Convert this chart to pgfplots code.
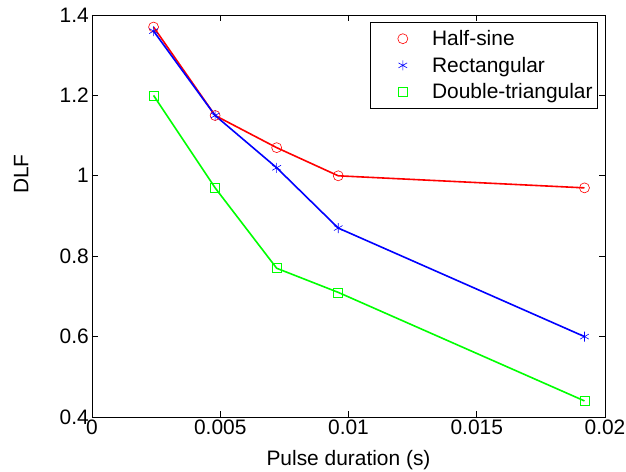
\documentclass[border=0pt]{standalone}
\usepackage{fontspec}
\setmainfont{Liberation Sans}
\usepackage{pgfplots}
\pgfplotsset{compat=1.18}
\definecolor{mred}{RGB}{255,0,0}
\definecolor{mblue}{RGB}{0,0,255}
\definecolor{mgreen}{RGB}{0,255,0}

\begin{document}
\begin{tikzpicture}
  \begin{axis}[
      scale only axis,
      width=513bp, height=402bp,
      xmin=0, xmax=0.02,
      ymin=0.4, ymax=1.4,
      xtick={0,0.005,0.01,0.015,0.02},
      xticklabels={0,0.005,0.01,0.015,0.02},
      ytick={0.4,0.6,0.8,1,1.2,1.4},
      yticklabels={0.4,0.6,0.8,1,1.2,1.4},
      scaled x ticks=false,
      tick align=inside,
      major tick length=6bp,
      axis line style={line width=0.8bp},
      tick style={line width=0.8bp, black},
      font=\fontsize{21}{24}\selectfont,
      xticklabel style={inner sep=3bp},
      yticklabel style={inner sep=3bp},
      xlabel={Pulse duration (s)},
      ylabel={DLF},
      xlabel style={at={(axis description cs:0.5,-0.107)}, anchor=center},
      ylabel style={at={(axis description cs:-0.138,0.604)}, anchor=center},
      legend cell align=left,
      legend image code/.code={
        \path (0bp,0bp) (56bp,0bp);
        \draw[#1] plot coordinates {(32bp,0bp)};
      },
      legend style={
        at={(axis description cs:1,1)}, anchor=north east,
        xshift=-7bp, yshift=-7bp,
        draw=black, line width=0.8bp,
        font=\fontsize{21}{24}\selectfont,
        row sep=6bp, inner xsep=0bp, inner ysep=6bp,
        nodes={inner xsep=5bp}
      }
    ]

    % markers (legend entries)
    \addplot[mred, only marks, mark=o, mark size=5bp, line width=0.6bp]
      coordinates {(0.0024,1.37) (0.0048,1.15) (0.0072,1.07) (0.0096,1.00) (0.0192,0.97)};
    \addlegendentry{Half-sine}
    \addplot[mblue, only marks, mark=asterisk, mark size=5bp, line width=0.6bp]
      coordinates {(0.0024,1.36) (0.0048,1.15) (0.0072,1.02) (0.0096,0.87) (0.0192,0.60)};
    \addlegendentry{Rectangular}
    \addplot[mgreen, only marks, mark=square, mark size=4.5bp, line width=0.6bp]
      coordinates {(0.0024,1.20) (0.0048,0.97) (0.0072,0.77) (0.0096,0.71) (0.0192,0.44)};
    \addlegendentry{Double-triangular}

    % connecting lines
    \addplot[mred, line width=1.6bp, no marks, forget plot]
      coordinates {(0.0024,1.37) (0.0048,1.15) (0.0072,1.07) (0.0096,1.00) (0.0192,0.97)};
    \addplot[mblue, line width=1.6bp, no marks, forget plot]
      coordinates {(0.0024,1.36) (0.0048,1.15) (0.0072,1.02) (0.0096,0.87) (0.0192,0.60)};
    \addplot[mgreen, line width=1.6bp, no marks, forget plot]
      coordinates {(0.0024,1.20) (0.0048,0.97) (0.0072,0.77) (0.0096,0.71) (0.0192,0.44)};
  \end{axis}
  \pgfresetboundingbox
  \path (-92bp,-55bp) rectangle (534bp,417bp);
\end{tikzpicture}
\end{document}
